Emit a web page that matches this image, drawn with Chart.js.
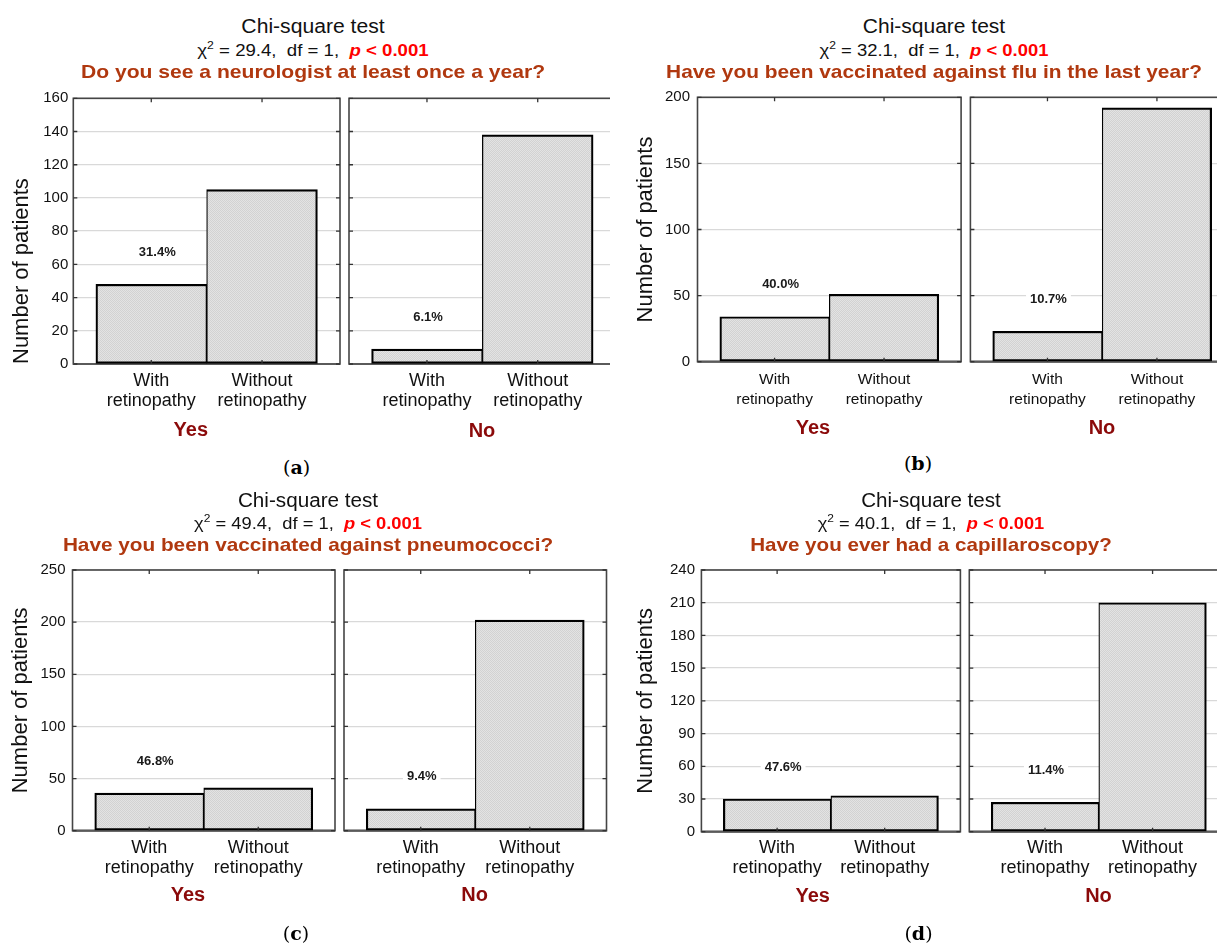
<!DOCTYPE html>
<html><head><meta charset="utf-8">
<script src="https://cdn.jsdelivr.net/npm/chart.js@4.4.1/dist/chart.umd.min.js"></script>
<style>
html,body{margin:0;padding:0;background:#fff;}
body{width:1217px;height:945px;position:relative;overflow:hidden;font-family:"Liberation Sans",Arial,sans-serif;}
.clip{position:absolute;top:0;height:945px;overflow:hidden;}
.clip canvas{position:absolute;}
.txt{position:absolute;white-space:pre;line-height:1;transform-origin:50% 50%;color:#111;}
</style></head><body>
<script>
// ---------- DATA ----------
const categories = ['With retinopathy', 'Without retinopathy'];
const tickLines = [['With', 'retinopathy'], ['Without', 'retinopathy']];
const groupNames = ['Yes', 'No'];
const panelLetters = ['a', 'b', 'c', 'd'];
const questions = [
  'Do you see a neurologist at least once a year?',
  'Have you been vaccinated against flu in the last year?',
  'Have you been vaccinated against pneumococci?',
  'Have you ever had a capillaroscopy?'
];
const chiValues = ['29.4', '32.1', '49.4', '40.1'];
const dfValues = ['1', '1', '1', '1'];
const pTexts = ['< 0.001', '< 0.001', '< 0.001', '< 0.001'];
const yesA = [48, 105],  noA = [9, 138];
const yesB = [34, 51],   noB = [23, 192];
const yesC = [36, 41],   noC = [21, 202];
const yesD = [30, 33],   noD = [27, 210];
const pctYes = ['31.4%', '40.0%', '46.8%', '47.6%'];
const pctNo  = ['6.1%', '10.7%', '9.4%', '11.4%'];
const yMax  = [160, 200, 250, 240];
const yStep = [20, 50, 50, 30];
const yesSeries = [yesA, yesB, yesC, yesD];
const noSeries  = [noA, noB, noC, noD];

// ---------- LAYOUT ----------
const PADTOP = 20;
const LAYOUT = [
 { clipX:0, clipW:610, hdr:{cx:312.7, base:[33.3,56.7,78.5], w:[143,231.5,464]}, yAlign:'start', yTitleX:21.5, tickGap:5, xPad:7, xFont:18,
   yes:{L:73.3,T:98.3,R:340,B:364,cl:0,bot:446,cw:343}, no:{L:349,T:98.3,R:615.7,B:364,cl:345,bot:446,cw:274},
   grp:[{cx:190.8,base:436},{cx:482,base:436.5}], sub:{cx:296.7,base:474} },
 { clipX:610, clipW:607, hdr:{cx:934.3, base:[33.3,56.7,78.3], w:[142,229,536]}, yAlign:'center', yTitleX:646, tickGap:7.5, xPad:7.8, xFont:15.5,
   yes:{L:697.5,T:97.3,R:961.1,B:361.7,cl:612,bot:446,cw:352}, no:{L:970.4,T:97.3,R:1234,B:361.7,cl:966,bot:446,cw:272},
   grp:[{cx:813,base:434},{cx:1102,base:434}], sub:{cx:918,base:470} },
 { clipX:0, clipW:610, hdr:{cx:307.5, base:[507.5,529.3,551], w:[140,228,490.5]}, yAlign:'center', yTitleX:21.4, tickGap:7, xPad:7, xFont:18,
   yes:{L:72.5,T:570,R:335,B:830.7,cl:0,bot:898,cw:338}, no:{L:344,T:570,R:606.5,B:830.7,cl:340,bot:898,cw:270},
   grp:[{cx:188,base:900.7},{cx:474.7,base:900.7}], sub:{cx:296,base:940} },
 { clipX:610, clipW:607, hdr:{cx:931, base:[507.5,529.3,551.5], w:[139.4,226.6,362]}, yAlign:'center', yTitleX:646, tickGap:6.4, xPad:6, xFont:18,
   yes:{L:701.4,T:570,R:960.4,B:831.7,cl:612,bot:898,cw:352}, no:{L:969.3,T:570,R:1228.3,B:831.7,cl:965,bot:898,cw:267},
   grp:[{cx:812.7,base:901.7},{cx:1098.5,base:901.7}], sub:{cx:918.5,base:940} }
];
const FAMILY = '"Liberation Sans", Arial, sans-serif';

// ---------- TEXT HELPERS ----------
function addText(html, cx, base, size, style, targetW, ascK) {
  const d = document.createElement('div');
  d.className = 'txt';
  d.innerHTML = html;
  d.style.fontSize = size + 'px';
  d.style.left = cx + 'px';
  d.style.top = (base - (ascK || 0.8465) * size) + 'px';
  Object.assign(d.style, style || {});
  document.body.appendChild(d);
  const w = d.offsetWidth;
  const s = targetW ? targetW / w : 1;
  d.style.transform = 'translateX(-50%) scaleX(' + s + ')';
  return d;
}

// ---------- PLUGINS ----------
const framePlugin = {
  id: 'frame',
  beforeDatasetsDraw(chart) {
    const { ctx, chartArea: a } = chart;
    ctx.save();
    ctx.strokeStyle = '#454545';
    ctx.lineWidth = 1.6;
    ctx.strokeRect(a.left, a.top, a.right - a.left, a.bottom - a.top);
    ctx.strokeStyle = '#5a5a5a';
    ctx.lineWidth = 2.2;
    ctx.beginPath(); ctx.moveTo(a.left, a.bottom); ctx.lineTo(a.right, a.bottom); ctx.stroke();
    ctx.restore();
  },
  afterDatasetsDraw(chart, args, opts) {
    const { ctx, chartArea: a, scales: { x, y } } = chart;
    ctx.save();
    ctx.strokeStyle = '#333';
    ctx.lineWidth = 1.3;
    ctx.beginPath();
    y.ticks.forEach(t => {
      const py = y.getPixelForValue(t.value);
      ctx.moveTo(a.left, py); ctx.lineTo(a.left + 4, py);
      ctx.moveTo(a.right - 4, py); ctx.lineTo(a.right, py);
    });
    x.ticks.forEach(t => {
      const px = x.getPixelForValue(t.value);
      ctx.moveTo(px, a.top); ctx.lineTo(px, a.top + 4);
      ctx.moveTo(px, a.bottom - 4); ctx.lineTo(px, a.bottom);
    });
    ctx.stroke();
    // percentage label above the first bar
    const bar = chart.getDatasetMeta(0).data[0];
    const tx = bar.x + opts.dx, ty = bar.y - 32;
    ctx.font = 'bold 13px ' + FAMILY;
    const w = ctx.measureText(opts.text).width;
    ctx.fillStyle = '#fff';
    ctx.fillRect(tx - w / 2 - 4, ty - 8.5, w + 8, 17);
    ctx.fillStyle = '#1a1a1a';
    ctx.textAlign = 'center';
    ctx.textBaseline = 'middle';
    ctx.fillText(opts.text, tx, ty);
    ctx.restore();
  }
};

function makePattern(ctx) {
  const pc = document.createElement('canvas');
  pc.width = 2; pc.height = 2;
  const g = pc.getContext('2d');
  g.fillStyle = '#e3e3e3'; g.fillRect(0, 0, 2, 2);
  g.fillStyle = '#d2d2d2'; g.fillRect(0, 0, 1, 1); g.fillRect(1, 1, 1, 1);
  return ctx.createPattern(pc, 'repeat');
}

function makeChart(clip, L, g, isYes, values, pct, pi) {
  const ct = Math.floor(g.T - PADTOP);
  const ch = g.bot - ct;
  const cv = document.createElement('canvas');
  cv.width = g.cw; cv.height = ch;
  cv.style.width = g.cw + 'px'; cv.style.height = ch + 'px';
  cv.style.left = (g.cl - L.clipX) + 'px';
  cv.style.top = ct + 'px';
  clip.appendChild(cv);
  const ctx = cv.getContext('2d');
  const pattern = makePattern(ctx);
  const yTitleLH = 22 * 1.2;
  return new Chart(cv, {
    type: 'bar',
    data: {
      datasets: [{
        data: values.map((v, i) => ({ x: i + 1, y: v })),
        backgroundColor: pattern,
        borderColor: '#000',
        borderWidth: c => c.dataIndex === 0
          ? { top: 2.2, left: 2.2, bottom: 2.2, right: 1.25 }
          : { top: 2.2, left: 1.25, bottom: 2.2, right: 2.2 },
        borderSkipped: false,
        barPercentage: 1,
        categoryPercentage: 1
      }]
    },
    options: {
      responsive: false, maintainAspectRatio: false, animation: false, events: [],
      devicePixelRatio: 1,
      layout: { padding: { top: g.T - ct, right: g.cl + g.cw - g.R, bottom: 0, left: 0 } },
      plugins: {
        legend: { display: false }, tooltip: { enabled: false },
        frame: { text: pct, dx: isYes ? 6 : 1 }
      },
      scales: {
        x: {
          type: 'linear', bounds: 'data', offset: false, min: 0.296, max: 2.704,
          afterBuildTicks: s => { s.ticks = categories.map((c, i) => ({ value: i + 1 })); },
          afterFit: s => { s.height = g.bot - g.B; },
          grid: { display: false, drawTicks: false, offset: false },
          border: { display: false },
          ticks: {
            callback: v => tickLines[Math.round(v) - 1],
            autoSkip: false, maxRotation: 0, minRotation: 0,
            padding: L.xPad, color: '#111',
            font: { family: FAMILY, size: L.xFont, lineHeight: '20px' }
          }
        },
        y: {
          min: 0, max: yMax[pi],
          afterFit: s => { s.width = g.L - g.cl; },
          grid: { color: '#d9d9d9', lineWidth: 1.3, drawTicks: false },
          border: { display: false },
          ticks: {
            display: isYes, stepSize: yStep[pi], padding: L.tickGap, color: '#111',
            font: { family: FAMILY, size: 15 }
          },
          title: {
            display: isYes, text: 'Number of patients', color: '#111', align: L.yAlign,
            font: { family: FAMILY, size: 22, lineHeight: 1.2 },
            padding: { top: L.yTitleX - g.cl - yTitleLH / 2, bottom: 0 }
          }
        }
      }
    },
    plugins: [framePlugin]
  });
}

// ---------- BUILD ----------
LAYOUT.forEach((L, pi) => {
  const clip = document.createElement('div');
  clip.className = 'clip';
  clip.style.left = L.clipX + 'px';
  clip.style.width = L.clipW + 'px';
  document.body.appendChild(clip);

  makeChart(clip, L, L.yes, true, yesSeries[pi], pctYes[pi], pi);
  makeChart(clip, L, L.no, false, noSeries[pi], pctNo[pi], pi);

  const h = L.hdr;
  addText('Chi-square test', h.cx, h.base[0], 19.5, {}, h.w[0]);
  addText('\u03C7<span style="font-size:10.5px;position:relative;top:-7px">2</span> = ' + chiValues[pi] +
          ',  df = ' + dfValues[pi] + ',  <span style="color:#ff0000;font-weight:bold"><i>p</i> ' +
          pTexts[pi].replace('<', '&lt;') + '</span>', h.cx, h.base[1], 16, {}, h.w[1]);
  addText(questions[pi], h.cx, h.base[2], 19, { color: '#b0380f', fontWeight: 'bold' }, h.w[2]);

  groupNames.forEach((gn, gi) => {
    addText(gn, L.grp[gi].cx, L.grp[gi].base, 20, { color: '#8b0a0a', fontWeight: 'bold' });
  });
  addText('(<b>' + panelLetters[pi] + '</b>)', L.sub.cx, L.sub.base, 19,
          { fontFamily: '"DejaVu Serif", "Liberation Serif", serif', color: '#000' }, null, 0.846);
});
</script>
</body></html>
